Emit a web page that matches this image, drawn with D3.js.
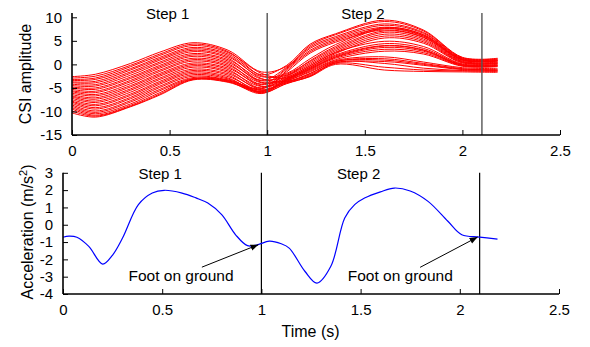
<!DOCTYPE html>
<html><head><meta charset="utf-8">
<script src="https://cdn.jsdelivr.net/npm/d3@7"></script>
<style>
html,body{margin:0;padding:0;background:#fff;}
svg{display:block;font-family:"Liberation Sans",Arial,Helvetica,sans-serif;}
</style></head>
<body><svg id="c" width="590" height="347"></svg>
<script>
// ---------- data ----------
const xTicks = [0, 0.5, 1, 1.5, 2, 2.5];
const csiTicks = [10, 5, 0, -5, -10, -15];
const accelTicks = [3, 2, 1, 0, -1, -2, -3, -4];
const stepBoundaries = [1.0, 2.1];
const stepLabels = [{text: "Step 1", t: 0.49}, {text: "Step 2", t: 1.49}];

const csiTime = [0, 0.12, 0.3, 0.45, 0.62, 0.8, 0.97, 1.1, 1.22, 1.35, 1.6, 1.8, 2.0, 2.18];
const csiAmplitude = [
  [-2.6,-2.1,0.2,2.6,4.6,3.0,-1.6,-0.4,4.0,6.3,9.1,7.1,1.4,1.2],
  [-2.9,-2.5,-0.2,2.2,4.3,2.7,-2.4,-2.3,0.8,3.8,7.6,6.1,0.9,0.7],
  [-3.2,-2.9,-0.5,1.9,4.0,2.5,-1.9,-2.9,-0.6,2.0,4.4,3.4,0.0,-0.1],
  [-3.4,-3.2,-0.9,1.5,3.6,2.2,-2.2,-0.2,4.3,6.5,9.4,7.3,1.5,1.3],
  [-3.7,-3.6,-1.2,1.2,3.3,1.9,-3.0,-3.6,-1.9,0.6,1.2,0.2,-0.9,-1.2],
  [-3.9,-3.9,-1.6,0.9,3.0,1.6,-2.6,-1.9,1.2,4.2,7.8,6.3,1.0,0.8],
  [-4.2,-4.3,-1.9,0.5,2.7,1.3,-3.4,-0.6,3.7,5.9,8.6,6.8,1.3,1.1],
  [-4.5,-4.6,-2.3,0.2,2.3,1.0,-3.1,-2.7,-0.3,2.5,4.9,3.8,0.1,0.0],
  [-4.8,-5.0,-2.7,-0.2,2.0,0.7,-3.8,-3.4,-1.6,0.8,1.6,0.5,-0.7,-0.9],
  [-5.0,-5.3,-3.0,-0.5,1.7,0.4,-3.5,-2.1,0.6,3.5,7.1,5.7,0.7,0.5],
  [-5.3,-5.7,-3.4,-0.8,1.3,0.1,-4.2,-0.8,3.4,5.6,8.3,6.6,1.2,1.0],
  [-5.6,-6.0,-3.7,-1.2,1.0,-0.2,-3.9,-3.0,-0.8,1.8,4.0,3.1,-0.1,-0.2],
  [-5.8,-6.4,-4.1,-1.5,0.7,-0.5,-4.6,-3.7,-2.2,0.3,0.6,-0.2,-1.1,-1.3],
  [-6.1,-6.7,-4.5,-1.9,0.3,-0.8,-4.3,-2.4,0.3,3.2,6.8,5.4,0.6,0.4],
  [-6.4,-7.1,-4.8,-2.2,0.0,-1.1,-5.0,-1.0,3.0,5.3,7.9,6.3,1.1,0.9],
  [-6.7,-7.4,-5.2,-2.5,-0.3,-1.4,-4.7,-3.2,-1.0,1.5,3.6,2.8,-0.2,-0.3],
  [-6.9,-7.8,-5.5,-2.9,-0.6,-1.7,-5.4,-3.9,-2.4,0.2,-0.6,-1.2,-1.4,-1.5],
  [-7.2,-8.1,-5.9,-3.2,-1.0,-2.0,-5.1,-2.6,0.0,2.9,6.4,5.1,0.5,0.3],
  [-7.5,-8.5,-6.3,-3.6,-1.3,-2.3,-5.8,-1.3,2.7,5.0,7.6,6.0,1.0,0.8],
  [-7.8,-8.8,-6.6,-3.9,-1.6,-2.6,-5.5,-3.4,-1.2,1.3,3.2,2.5,-0.3,-0.4],
  [-8.0,-9.2,-7.0,-4.2,-1.9,-2.9,-6.1,-4.0,-2.6,0.0,-1.2,-1.5,-1.6,-1.7],
  [-8.3,-9.5,-7.3,-4.6,-2.2,-3.1,-5.7,-2.9,-0.3,2.6,6.0,4.8,0.4,0.2],
  [-8.6,-9.9,-7.7,-4.9,-2.5,-3.3,-5.2,-1.6,2.4,4.7,7.3,5.8,0.9,0.7],
  [-8.9,-10.2,-8.0,-5.3,-2.8,-3.4,-5.9,-3.6,-1.4,1.0,2.8,2.2,-0.4,-0.5],
  [-9.2,-10.5,-8.4,-5.6,-3.0,-3.5,-5.5,-3.8,-2.0,0.6,0.9,0.0,-1.0,-1.1],
  [-9.5,-10.8,-8.7,-6.0,-3.1,-3.6,-6.2,-3.1,-0.6,2.3,5.6,4.5,0.3,0.2],
  [-9.9,-11.0,-8.9,-6.3,-3.2,-3.7,-5.8,-3.3,-1.0,1.6,3.9,3.0,-0.2,-0.3],
  [-10.3,-11.2,-9.0,-6.5,-3.3,-3.8,-6.0,-4.1,-2.5,0.4,0.2,-0.8,-1.3,-1.4]
];

const accelTime  = [0,0.03,0.07,0.13,0.2,0.25,0.3,0.38,0.45,0.51,0.6,0.67,0.73,0.8,0.87,0.93,0.98,1.04,1.1,1.14,1.22,1.28,1.35,1.42,1.47,1.52,1.6,1.67,1.75,1.84,1.94,2.01,2.1,2.19];
const accelValue = [-0.72,-0.66,-0.72,-1.25,-2.27,-1.75,-0.77,1.16,1.83,1.99,1.83,1.55,1.25,0.58,-0.58,-1.21,-1.16,-0.95,-1.1,-1.35,-2.7,-3.37,-2.4,0.39,1.16,1.54,1.9,2.12,1.95,1.35,0.2,-0.58,-0.71,-0.83];

const footAnnotations = [
  {text: "Foot on ground", tx: 0.595, ty: -3.25, fromT: 0.70, fromV: -2.45, toT: 0.985, toV: -1.15},
  {text: "Foot on ground", tx: 1.70,  ty: -3.25, fromT: 1.80, fromV: -2.46, toT: 2.09,  toV: -0.71}
];

// ---------- layout ----------
const svg = d3.select("#c");
const fs = 15;

const xTop = d3.scaleLinear().domain([0, 2.5]).range([72, 560]);
const yTop = d3.scaleLinear().domain([-15, 10]).range([135, 17.3]);
const topTopPx = 13;

const xBot = d3.scaleLinear().domain([0, 2.5]).range([63, 559]);
const yBot = d3.scaleLinear().domain([-4, 3]).range([294, 172.8]);

const fmt = d => String(d);

function drawAxes(x, y, xT, yT, topPx) {
  const g = svg.append("g");
  const y0 = y.range()[0];
  const x0 = x.range()[0];
  const ax = g.append("g").attr("transform", `translate(0,${y0})`)
    .call(d3.axisBottom(x).tickValues(xT).tickFormat(fmt).tickSizeInner(-5).tickSizeOuter(0).tickPadding(10));
  const ay = g.append("g").attr("transform", `translate(${x0},0)`)
    .call(d3.axisLeft(y).tickValues(yT).tickFormat(fmt).tickSizeInner(-5).tickSizeOuter(0).tickPadding(10));
  [ax, ay].forEach(a => {
    a.select(".domain").remove();
    a.selectAll("text").attr("font-size", fs).attr("fill", "#000").attr("font-family", "Liberation Sans, Arial, sans-serif");
    a.selectAll("line").attr("stroke", "#000").attr("stroke-width", 1);
  });
  g.append("line").attr("x1", x0).attr("x2", x0).attr("y1", topPx).attr("y2", y0)
    .attr("stroke", "#000").attr("stroke-width", 1.6);
  g.append("line").attr("x1", x0).attr("x2", x.range()[1]).attr("y1", y0).attr("y2", y0)
    .attr("stroke", "#000").attr("stroke-width", 1.6);
}

// ---------- top plot ----------
const lineTop = d3.line().x(d => xTop(d[0])).y(d => yTop(d[1])).curve(d3.curveCatmullRom.alpha(0.5));
svg.append("g").selectAll("path").data(csiAmplitude).join("path")
  .attr("d", s => lineTop(s.map((v, i) => [csiTime[i], v])))
  .attr("fill", "none").attr("stroke", "#ff0000").attr("stroke-width", 1);

svg.append("g").selectAll("line").data(stepBoundaries).join("line")
  .attr("x1", d => xTop(d)).attr("x2", d => xTop(d))
  .attr("y1", topTopPx).attr("y2", yTop(-15))
  .attr("stroke", "#555").attr("stroke-width", 1.4);

drawAxes(xTop, yTop, xTicks, csiTicks, topTopPx);

svg.append("g").selectAll("text").data(stepLabels).join("text")
  .attr("x", d => xTop(d.t)).attr("y", 19).attr("text-anchor", "middle")
  .attr("font-size", fs).text(d => d.text);

svg.append("text").attr("transform", `translate(31,${(135 + 13) / 2}) rotate(-90)`)
  .attr("text-anchor", "middle").attr("font-size", 16).text("CSI amplitude");

// ---------- bottom plot ----------
svg.append("g").selectAll("line").data(stepBoundaries).join("line")
  .attr("x1", d => xBot(d)).attr("x2", d => xBot(d))
  .attr("y1", yBot(3)).attr("y2", yBot(-4))
  .attr("stroke", "#000").attr("stroke-width", 1.2);

const lineBot = d3.line().x(d => xBot(d[0])).y(d => yBot(d[1])).curve(d3.curveCatmullRom.alpha(0.5));
svg.append("path").attr("d", lineBot(accelTime.map((t, i) => [t, accelValue[i]])))
  .attr("fill", "none").attr("stroke", "#0000ff").attr("stroke-width", 1.2);

drawAxes(xBot, yBot, xTicks, accelTicks, yBot(3));

svg.append("g").selectAll("text").data(stepLabels).join("text")
  .attr("x", d => xBot(d.t)).attr("y", 179).attr("text-anchor", "middle")
  .attr("font-size", fs).text(d => d.text);

svg.append("defs").append("marker").attr("id", "arr")
  .attr("viewBox", "0 0 10 10").attr("refX", 10).attr("refY", 5)
  .attr("markerWidth", 8).attr("markerHeight", 8).attr("markerUnits", "userSpaceOnUse")
  .attr("orient", "auto")
  .append("path").attr("d", "M0,1 L10,5 L0,9 Z").attr("fill", "#000");

const ann = svg.append("g");
ann.selectAll("line").data(footAnnotations).join("line")
  .attr("x1", d => xBot(d.fromT)).attr("y1", d => yBot(d.fromV))
  .attr("x2", d => xBot(d.toT)).attr("y2", d => yBot(d.toV))
  .attr("stroke", "#000").attr("stroke-width", 1).attr("marker-end", "url(#arr)");
ann.selectAll("text").data(footAnnotations).join("text")
  .attr("x", d => xBot(d.tx)).attr("y", d => yBot(d.ty)).attr("text-anchor", "middle")
  .attr("font-size", 15.5).text(d => d.text);

const accLabel = svg.append("text").attr("transform", `translate(33,${232}) rotate(-90)`)
  .attr("text-anchor", "middle").attr("font-size", 16);
accLabel.append("tspan").text("Acceleration (m/s");
accLabel.append("tspan").attr("font-size", 11).attr("dy", -6).text("2");
accLabel.append("tspan").attr("dy", 6).text(")");

svg.append("text").attr("x", 310.5).attr("y", 337).attr("text-anchor", "middle")
  .attr("font-size", 16).text("Time (s)");
</script></body></html>
